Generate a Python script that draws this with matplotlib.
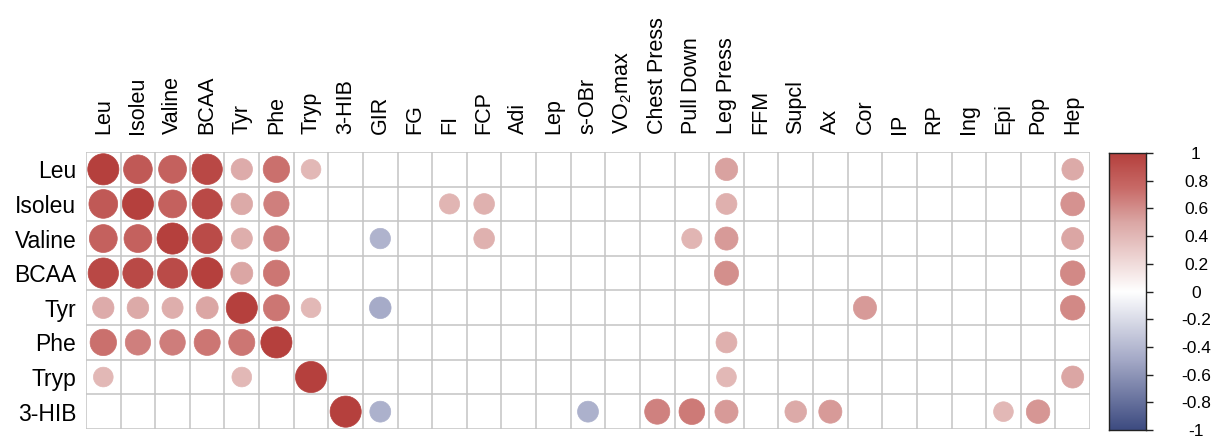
import numpy as np
import matplotlib
matplotlib.use("Agg")
import matplotlib.pyplot as plt
from matplotlib.colors import LinearSegmentedColormap, Normalize
from matplotlib.patches import Circle

plt.rcParams['font.family'] = ['Liberation Sans', 'DejaVu Sans']
plt.rcParams['mathtext.fontset'] = 'custom'
plt.rcParams['mathtext.rm'] = 'Liberation Sans'
plt.rcParams['mathtext.it'] = 'Liberation Sans:italic'

row_labels = ['Leu', 'Isoleu', 'Valine', 'BCAA', 'Tyr', 'Phe', 'Tryp', '3-HIB']
col_labels = ['Leu', 'Isoleu', 'Valine', 'BCAA', 'Tyr', 'Phe', 'Tryp', '3-HIB',
              'GIR', 'FG', 'FI', 'FCP', 'Adi', 'Lep', 's-OBr', 'VO$_2$max',
              'Chest Press', 'Pull Down', 'Leg Press', 'FFM', 'Supcl', 'Ax',
              'Cor', 'IP', 'RP', 'Ing', 'Epi', 'Pop', 'Hep']

_ = np.nan
# significant correlations only; blank cells are NaN
r_leu    = [1.00, 0.85, 0.80, 0.95, 0.47, 0.72, 0.40, _, _, _, _, _, _, _, _, _,
            _, _, 0.52, _, _, _, _, _, _, _, _, _, 0.48]
r_isoleu = [0.85, 1.00, 0.80, 0.94, 0.48, 0.66, _, _, _, _, 0.42, 0.44, _, _, _, _,
            _, _, 0.45, _, _, _, _, _, _, _, _, _, 0.58]
r_valine = [0.80, 0.80, 1.00, 0.93, 0.46, 0.67, _, _, -0.43, _, _, 0.44, _, _, _, _,
            _, 0.42, 0.55, _, _, _, _, _, _, _, _, _, 0.50]
r_bcaa   = [0.95, 0.94, 0.93, 1.00, 0.50, 0.70, _, _, _, _, _, _, _, _, _, _,
            _, _, 0.60, _, _, _, _, _, _, _, _, _, 0.62]
r_tyr    = [0.47, 0.48, 0.46, 0.50, 1.00, 0.70, 0.40, _, -0.48, _, _, _, _, _, _, _,
            _, _, _, _, _, _, 0.55, _, _, _, _, _, 0.62]
r_phe    = [0.72, 0.66, 0.67, 0.70, 0.70, 1.00, _, _, _, _, _, _, _, _, _, _,
            _, _, 0.45, _, _, _, _, _, _, _, _, _, _]
r_tryp   = [0.40, _, _, _, 0.40, _, 1.00, _, _, _, _, _, _, _, _, _,
            _, _, 0.40, _, _, _, _, _, _, _, _, _, 0.50]
r_3hib   = [_, _, _, _, _, _, _, 1.00, -0.45, _, _, _, _, _, -0.45, _,
            0.65, 0.68, 0.55, _, 0.48, 0.55, _, _, _, _, 0.40, 0.57, _]

corr = np.array([r_leu, r_isoleu, r_valine, r_bcaa, r_tyr, r_phe, r_tryp, r_3hib])

cmap = LinearSegmentedColormap.from_list(
    'bwr_muted',
    [(0.00, '#3d4b80'), (0.25, '#a3a8c6'), (0.50, '#ffffff'),
     (0.75, '#dba7a5'), (0.875, '#c86a67'), (1.00, '#b5403d')])
norm = Normalize(-1, 1)

W, H = 1221, 437
fig = plt.figure(figsize=(W / 100, H / 100), dpi=100)

nr, nc = corr.shape
gx0, gx1, gy0 = 86, 1090, 152
cell = (gx1 - gx0) / nc
gy1 = gy0 + cell * nr
ax = fig.add_axes([gx0 / W, 1 - gy1 / H, (gx1 - gx0) / W, (gy1 - gy0) / H])
ax.set_xlim(0.5, nc + 0.5)
ax.set_ylim(nr + 0.5, 0.5)
ax.set_aspect('equal')

grid_color = '#c4c4c4'
for k in range(nc + 1):
    ax.axvline(k + 0.5, color=grid_color, lw=1.1, zorder=1)
for k in range(nr + 1):
    ax.axhline(k + 0.5, color=grid_color, lw=1.1, zorder=1)

for i in range(nr):
    for j in range(nc):
        v = corr[i, j]
        if np.isnan(v):
            continue
        c = cmap(norm(v))
        ax.add_patch(Circle((j + 1, i + 1), 0.45 * np.sqrt(abs(v)),
                            facecolor=c, edgecolor=c, lw=0.5, zorder=2))

for s in ax.spines.values():
    s.set_visible(False)

ax.set_yticks(np.arange(1, nr + 1))
ax.set_yticklabels(row_labels, fontsize=16.5)
ax.tick_params(axis='y', length=0, pad=7)
ax.xaxis.tick_top()
ax.set_xticks(np.arange(1, nc + 1))
ax.set_xticklabels(col_labels, rotation=90, fontsize=15.5)
ax.tick_params(axis='x', length=0, pad=13)

# colour legend
cx0, cx1, cy0, cy1 = 1109, 1146, 153, 430
cax = fig.add_axes([cx0 / W, 1 - cy1 / H, (cx1 - cx0) / W, (cy1 - cy0) / H])
grad = np.linspace(-1, 1, 256).reshape(-1, 1)
cax.imshow(grad, cmap=cmap, norm=norm, aspect='auto', origin='lower',
           extent=[0, 1, -1, 1])
cax.set_xlim(0, 1)
cax.set_ylim(-1, 1)
cax.set_xticks([])
cax.yaxis.tick_right()
ticks = np.round(np.arange(-1, 1.01, 0.2), 1)
cax.set_yticks(ticks)
cax.set_yticklabels(['1' if t == 1 else '-1' if t == -1 else '0' if t == 0 else f'{t:g}'
                     for t in ticks], fontsize=12.5)
for lab in cax.get_yticklabels():
    lab.set_horizontalalignment('center')
cax.tick_params(axis='y', length=5, width=1, color='#222222', pad=31)
for s in cax.spines.values():
    s.set_color('#222222')
    s.set_linewidth(1.0)

fig.savefig('out.png', dpi=100)
